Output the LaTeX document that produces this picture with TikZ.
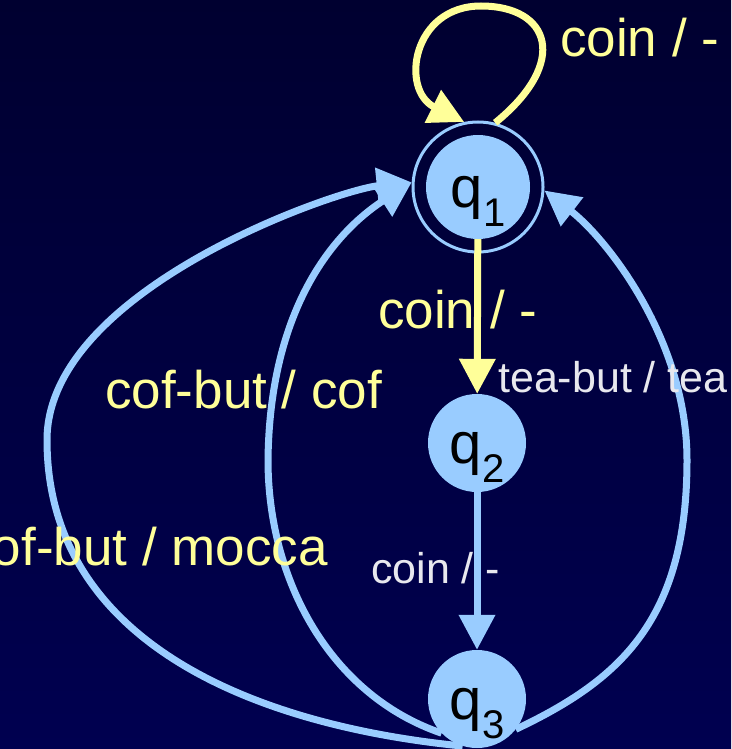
\documentclass[tikz,border=0pt]{standalone}
\usepackage{fontspec}
\setmainfont{Liberation Sans}
\usetikzlibrary{arrows.meta}
\definecolor{StateBlue}{HTML}{99CCFF}
\definecolor{LabelYellow}{HTML}{FFFF99}
\definecolor{LabelGrey}{HTML}{E8E8EE}
\definecolor{SlideTop}{HTML}{000030}
\definecolor{SlideMid}{HTML}{000066}
\definecolor{SlideBottom}{HTML}{000050}
\newcommand{\qsub}[1]{q\raisebox{-19pt}{\fontsize{40}{40}\selectfont #1}}

\begin{document}
\begin{tikzpicture}[x=1pt, y=-1pt,
    state/.style={circle, fill=StateBlue, inner sep=0pt, minimum size=98pt, text height=40pt, text depth=0pt, font=\fontsize{58}{58}\selectfont},
    ring/.style={circle, draw=StateBlue, line width=3pt, inner sep=0pt, minimum size=130pt},
    yedge/.style={draw=LabelYellow, line width=7pt, -{Triangle[length=35pt,width=35pt]}},
    bedge/.style={draw=StateBlue, line width=7pt, -{Triangle[length=35pt,width=35pt]}},
    biglabel/.style={text=LabelYellow, inner sep=0pt, font=\fontsize{53}{60}\selectfont},
    smalllabel/.style={text=LabelGrey, inner sep=0pt, font=\fontsize{43}{50}\selectfont}
  ]
  \useasboundingbox (0,0) rectangle (731,749);
  \shade[top color=SlideTop, middle color=SlideMid, bottom color=SlideBottom] (0,0) rectangle (731,749);

  \node[state, minimum size=104pt] (q1) at (478,187) {\qsub{1}};
  \node[ring] (q1ring) at (q1) {};
  \node[state] (q2) at (477,443) {\qsub{2}};
  \node[state] (q3) at (477,699) {\qsub{3}};

  % self loop on q1
  \draw[yedge] (q1ring.75) .. controls (570,62) and (550,6) .. (481,6)
    .. controls (412,6) and (400,90) .. (q1ring.102);
  \draw[yedge] (q1) -- (q2);
  \draw[bedge] (q2) -- (q3);
  \draw[bedge] (q3.322) .. controls (620,680) and (687,620) .. (687,460)
    .. controls (687,340) and (607,239) .. (q1ring.357);
  \draw[bedge] (q3.224) .. controls (330,695) and (268,580) .. (268,460)
    .. controls (270,290) and (350,222) .. (q1ring.176);
  \draw[bedge] (q3.253) .. controls (250,725) and (47,640) .. (47,440)
    .. controls (47,290) and (336,190) .. (q1ring.176);

  \node[biglabel, anchor=base west] (coinloop) at (560,57) {coin / -};
  \node[biglabel, anchor=base west] (coinstep) at (378,328) {coin / -};
  \node[biglabel, anchor=base west] (cofbut) at (105,408) {cof-but / cof};
  \node[biglabel, anchor=base east] (moccabut) at (328,565) {cof-but / mocca};
  \node[smalllabel, anchor=base west] (teabut) at (498,392) {tea-but / tea};
  \node[smalllabel, anchor=base west] (coinlow) at (371,583) {coin / -};
\end{tikzpicture}
\end{document}
